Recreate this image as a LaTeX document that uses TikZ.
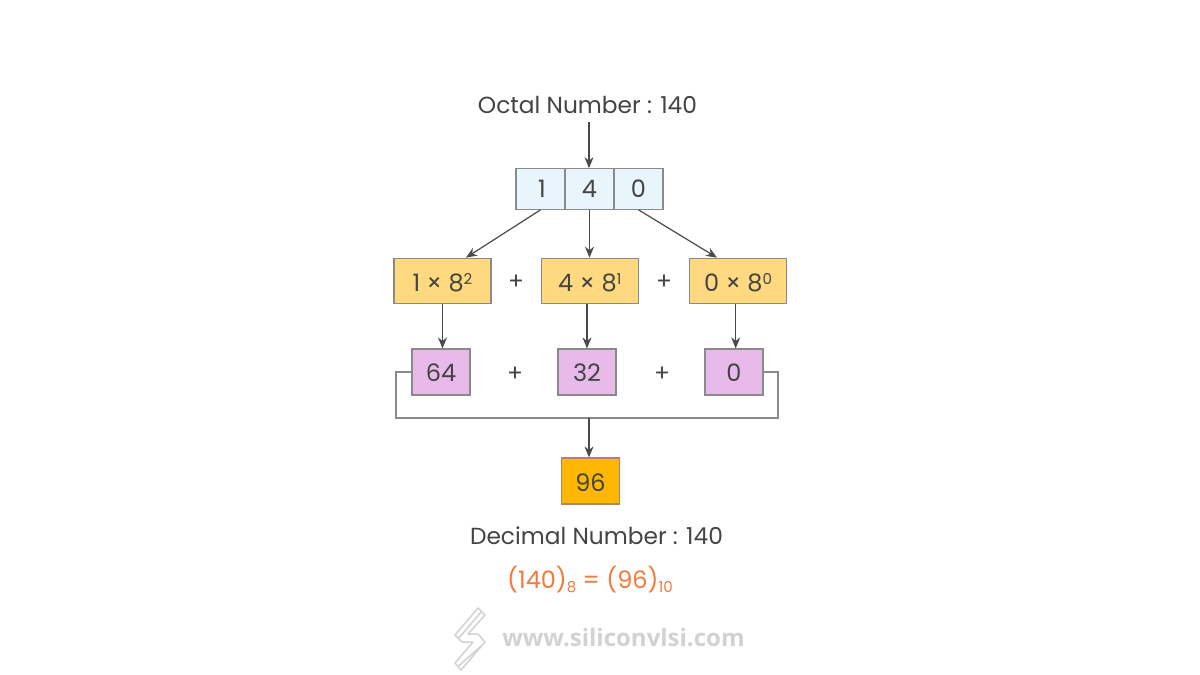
\documentclass[tikz,border=0pt]{standalone}
\usepackage{fontspec}
\setmainfont{Poppins}
\newfontfamily\logofont{Open Sans}
\usetikzlibrary{arrows.meta, positioning, calc}
\definecolor{txtgray}{HTML}{444444}
\definecolor{linegray}{HTML}{4A4A4A}
\definecolor{boxgray}{HTML}{8A8A8A}
\definecolor{cellblue}{HTML}{E9F5FC}
\definecolor{termyellow}{HTML}{FFD97F}
\definecolor{valpurple}{HTML}{E8BAE9}
\definecolor{sumorange}{HTML}{FFB703}
\definecolor{eqorange}{HTML}{F47A3C}
\definecolor{logogray}{HTML}{D2D2D2}
\newcommand{\smallsup}[1]{\raisebox{6.5pt}{\fontsize{15}{15}\selectfont #1}}
\newcommand{\smallsub}[1]{\raisebox{-4pt}{\fontsize{15}{15}\selectfont #1}}
\tikzset{
  boxed/.style={draw=boxgray, inner sep=0pt, line width=1.2pt, text height=20pt, text depth=0pt},
  cell/.style={boxed, text height=17.5pt, fill=cellblue, minimum width=49pt, minimum height=40.5pt},
  term/.style={boxed, fill=termyellow, minimum width=97pt, minimum height=45.5pt},
  val/.style={boxed, text height=18.5pt, fill=valpurple, minimum width=58pt, minimum height=46pt},
  total/.style={boxed, draw=boxgray!70!orange, fill=sumorange, minimum width=58pt, minimum height=46pt},
  arr/.style={-{Stealth[length=11pt,width=9pt]}, draw=linegray, line width=1.2pt},
  bus/.style={draw=boxgray, line width=1.3pt},
  lab/.style={font=\fontsize{23.3}{26}\selectfont, text=txtgray, inner sep=0pt}
}
\begin{document}
\begin{tikzpicture}[x=1pt, y=-1pt, every node/.style={font=\fontsize{24}{26}\selectfont, text=txtgray}]
  \useasboundingbox (0, 0) rectangle (1200, 675);
  \fill[white] (0, 0) rectangle (1200, 675);

  \node[lab] (octal) at (587.5, 105) {Octal Number : 140};
  \coordinate (start) at (589, 122);

  % digits
  \node[cell] (c1) at (540.5, 189) {\hspace{3pt}1};
  \node[cell] (c2) at (589.5, 189) {4};
  \node[cell] (c3) at (638.5, 189) {0};

  % weighted terms
  \node[term] (t1) at (442.5, 281) {1 × 8\smallsup{2}};
  \node[term] (t2) at (589.8, 281) {4 × 8\smallsup{1}};
  \node[term] (t3) at (738, 281) {0 × 8\smallsup{0}};
  \node[lab] (p1) at (516, 282) {+};
  \node[lab] (p2) at (664, 282) {+};

  % values
  \node[val] (v1) at (441, 372) {64};
  \node[val] (v2) at (587, 372) {32};
  \node[val] (v3) at (734, 372) {0};
  \node[lab] (p3) at (515, 374) {+};
  \node[lab] (p4) at (662, 374) {+};

  \node[total] (sum) at (590.5, 481) {96};
  \node[lab] (dec) at (596.5, 536) {Decimal Number : 140};
  \node[lab, font=\fontsize{24}{26}\selectfont, text=eqorange] (eq) at (590, 580) {(140)\smallsub{8} = (96)\smallsub{10}};

  \draw[arr] (start) -- (start |- c2.north);
  \draw[arr] (c1.south) -- ([xshift=23.5pt]t1.north);
  \draw[arr] (c2.south) -- (c2.south |- t2.north);
  \draw[arr] (c3.south) -- ([xshift=-21pt]t3.north);

  \draw[arr] (t1.south) -- (t1.south |- v1.north);
  \draw[arr] (v2.north |- t2.south) -- (v2.north);
  \draw[arr] ([xshift=-2.3pt]t3.south) -- ([xshift=1.7pt]v3.north);

  \coordinate (busl) at (396, 418);
  \coordinate (busr) at (778, 418);
  \coordinate (busm) at (589, 418);
  \draw[bus] (v1.west) -| (busl) -- (busr) |- (v3.east);
  \draw[arr] (busm) -- (busm |- sum.north);

  % logo
  \begin{scope}[draw=logogray, line width=1.5pt, line join=round]
    \draw (478, 608) -- (485, 615) -- (468, 634) -- (478, 634) -- (485, 642) -- (461, 670) -- (455, 663) -- (473, 642) -- (462, 642) -- (455, 635) -- cycle;
    \draw (481.5, 611.5) -- (458.5, 638.5);
    \draw (481, 646) -- (458, 666.5);
  \end{scope}
  \node[font=\logofont\bfseries\fontsize{24}{28}\selectfont, text=logogray, inner sep=0pt] (logo) at (623.5, 638) {www.siliconvlsi.com};
\end{tikzpicture}
\end{document}
